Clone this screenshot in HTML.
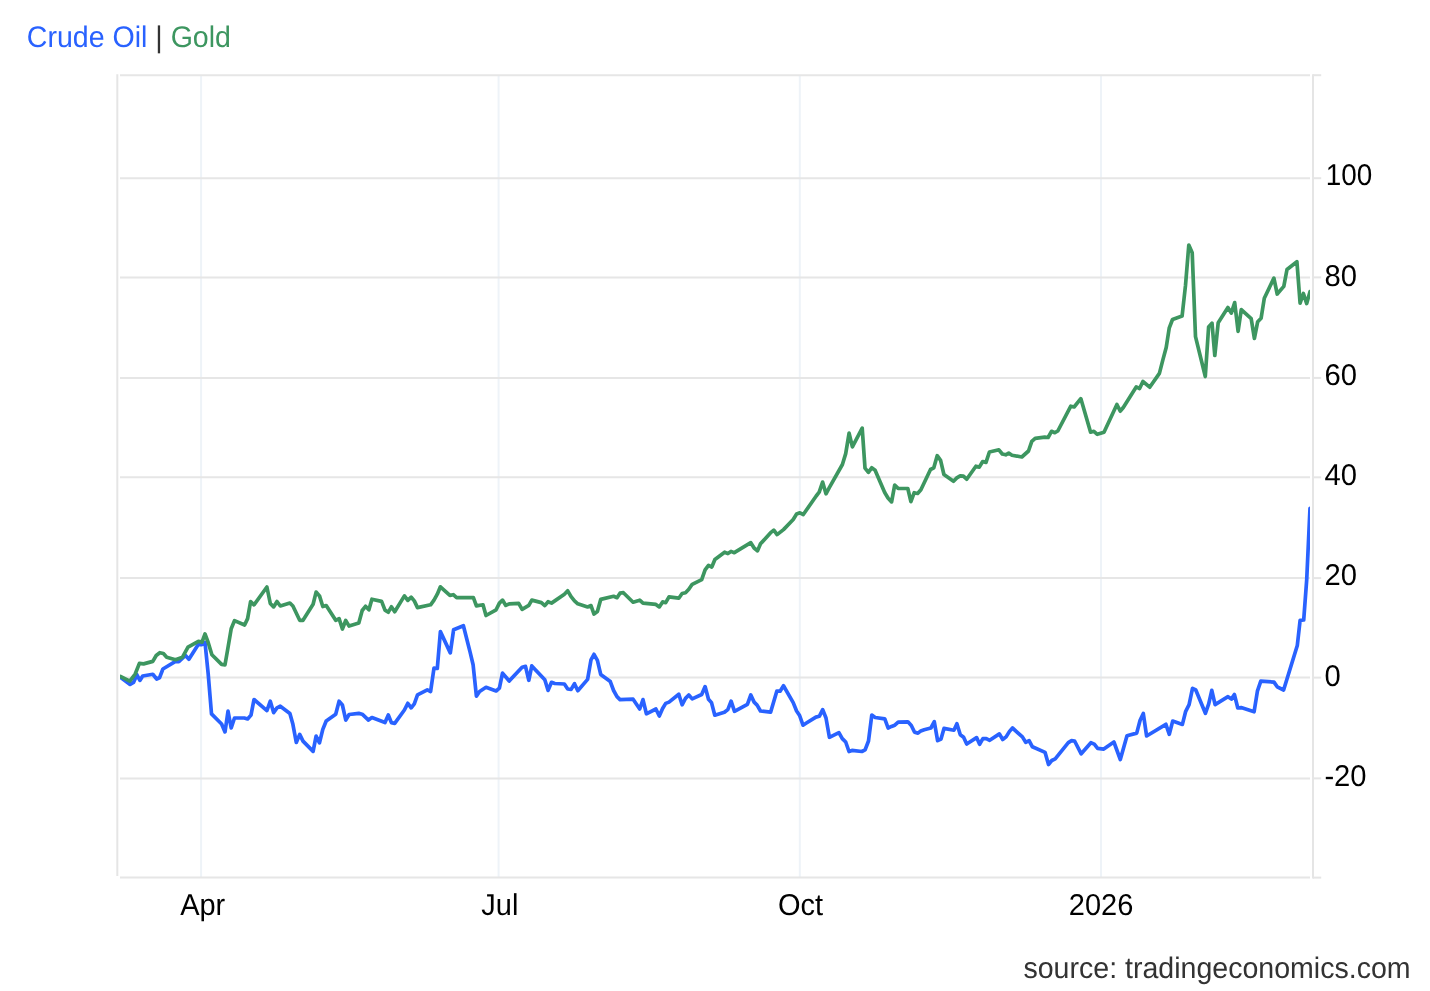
<!DOCTYPE html>
<html lang="en"><head><meta charset="utf-8"><title>Crude Oil | Gold</title>
<style>
html,body{margin:0;padding:0;background:#fff;}
body{width:1430px;height:991px;position:relative;overflow:hidden;font-family:"Liberation Sans",Arial,Helvetica,sans-serif;}
#wrap{position:absolute;left:0;top:0;width:1430px;height:991px;will-change:transform;}
svg{position:absolute;left:0;top:0;}
svg text{font-family:"Liberation Sans",Arial,Helvetica,sans-serif;font-size:29.2px;fill:#000;white-space:pre;text-rendering:geometricPrecision;}
svg text.x{font-size:29px;}
svg text.t{font-size:28.55px;fill:#333;}
</style></head><body><div id="wrap">
<svg width="1430" height="991" viewBox="0 0 1430 991">
<defs><clipPath id="plot"><rect x="120" y="60" width="1190" height="830"/></clipPath></defs>

<line x1="201.1" y1="75.2" x2="201.1" y2="877.6" stroke="#eef3f8" stroke-width="2"/>
<line x1="498.6" y1="75.2" x2="498.6" y2="877.6" stroke="#eef3f8" stroke-width="2"/>
<line x1="799.8" y1="75.2" x2="799.8" y2="877.6" stroke="#eef3f8" stroke-width="2"/>
<line x1="1101" y1="75.2" x2="1101" y2="877.6" stroke="#eef3f8" stroke-width="2"/>
<line x1="120" y1="75.2" x2="1310" y2="75.2" stroke="#e6e6e6" stroke-width="2"/>
<line x1="120" y1="178.2" x2="1310" y2="178.2" stroke="#e6e6e6" stroke-width="2"/>
<line x1="120" y1="277.4" x2="1310" y2="277.4" stroke="#e6e6e6" stroke-width="2"/>
<line x1="120" y1="377.9" x2="1310" y2="377.9" stroke="#e6e6e6" stroke-width="2"/>
<line x1="120" y1="477.3" x2="1310" y2="477.3" stroke="#e6e6e6" stroke-width="2"/>
<line x1="120" y1="578.1" x2="1310" y2="578.1" stroke="#e6e6e6" stroke-width="2"/>
<line x1="120" y1="677.6" x2="1310" y2="677.6" stroke="#e6e6e6" stroke-width="2"/>
<line x1="120" y1="778.4" x2="1310" y2="778.4" stroke="#e6e6e6" stroke-width="2"/>
<line x1="120" y1="877.6" x2="1310" y2="877.6" stroke="#e6e6e6" stroke-width="2"/>
<line x1="117.3" y1="74.2" x2="117.3" y2="876.0" stroke="#e5e5e5" stroke-width="2"/>
<line x1="1313" y1="74.2" x2="1313" y2="878.6" stroke="#e5e5e5" stroke-width="2"/>
<line x1="1313" y1="75.2" x2="1321.2" y2="75.2" stroke="#e5e5e5" stroke-width="2"/>
<line x1="1313" y1="178.2" x2="1321.2" y2="178.2" stroke="#e5e5e5" stroke-width="2"/>
<line x1="1313" y1="277.4" x2="1321.2" y2="277.4" stroke="#e5e5e5" stroke-width="2"/>
<line x1="1313" y1="377.9" x2="1321.2" y2="377.9" stroke="#e5e5e5" stroke-width="2"/>
<line x1="1313" y1="477.3" x2="1321.2" y2="477.3" stroke="#e5e5e5" stroke-width="2"/>
<line x1="1313" y1="578.1" x2="1321.2" y2="578.1" stroke="#e5e5e5" stroke-width="2"/>
<line x1="1313" y1="677.6" x2="1321.2" y2="677.6" stroke="#e5e5e5" stroke-width="2"/>
<line x1="1313" y1="778.4" x2="1321.2" y2="778.4" stroke="#e5e5e5" stroke-width="2"/>
<line x1="1313" y1="877.6" x2="1321.2" y2="877.6" stroke="#e5e5e5" stroke-width="2"/>
<g clip-path="url(#plot)" fill="none" stroke-linejoin="round" stroke-linecap="round" stroke-width="3.7">
<path d="M120.4 677.3 L130.1 684.4 L133.5 682.4 L136.9 674.8 L139.9 680.4 L142.7 676.0 L152.8 674.3 L156.7 679.0 L159.5 677.8 L162.9 669.0 L175.5 661.4 L178.8 661.7 L185.5 655.5 L188.9 659.2 L198.4 644.3 L202.0 644.6 L205.0 642.4 L208.2 674.0 L211.5 713.9 L221.6 724.0 L225.0 731.9 L228.0 711.2 L231.2 728.0 L234.5 718.0 L244.3 718.0 L247.6 719.0 L251.0 715.1 L254.0 699.5 L266.9 710.6 L270.3 701.2 L273.6 712.6 L277.0 707.9 L280.3 706.2 L289.9 713.4 L292.9 724.3 L296.3 742.5 L299.7 734.4 L303.0 741.1 L313.1 751.4 L316.1 736.1 L319.5 742.8 L322.8 729.4 L326.2 721.0 L335.7 714.3 L339.1 701.2 L342.4 705.0 L345.8 720.1 L349.1 714.5 L358.8 713.4 L362.2 714.2 L368.5 720.1 L371.9 717.6 L385.0 722.6 L388.3 715.0 L391.4 722.6 L394.7 723.4 L404.4 710.0 L407.8 703.3 L411.2 707.8 L414.3 703.8 L417.5 694.9 L427.3 689.9 L430.6 691.5 L434.0 668.0 L437.3 668.5 L440.4 631.6 L450.3 652.9 L453.6 629.8 L463.4 625.7 L466.7 638.7 L470.1 652.1 L473.1 664.7 L476.4 696.1 L479.6 691.5 L486.0 687.3 L496.1 691.0 L499.4 688.2 L502.5 673.1 L509.2 681.0 L522.1 667.2 L525.5 666.4 L528.8 680.3 L531.8 665.9 L544.8 679.8 L548.1 690.4 L551.5 682.3 L554.8 683.5 L564.4 684.0 L567.7 689.0 L571.1 689.4 L574.5 683.7 L577.8 690.7 L587.6 679.4 L591.0 659.8 L594.0 654.3 L597.4 660.3 L600.7 674.4 L610.3 681.6 L613.6 690.5 L617.0 696.7 L620.0 699.6 L633.1 699.2 L639.7 709.0 L643.0 699.6 L646.4 713.8 L655.9 709.0 L659.3 716.0 L662.6 708.5 L665.7 703.4 L669.0 702.1 L678.8 694.2 L682.1 704.8 L685.5 698.4 L688.8 695.0 L692.2 698.9 L701.7 694.5 L705.1 686.6 L708.5 699.2 L711.5 702.6 L714.8 715.2 L724.4 712.3 L727.8 709.6 L731.1 701.2 L734.5 711.3 L747.4 704.3 L750.8 695.0 L754.1 702.1 L757.1 705.1 L760.5 711.0 L770.6 712.2 L776.8 691.2 L780.1 691.2 L783.5 685.8 L793.2 702.6 L796.6 711.0 L799.6 715.5 L803.0 725.2 L806.4 723.0 L815.9 717.1 L819.3 716.3 L822.7 709.6 L826.0 718.0 L829.4 737.3 L838.9 732.6 L842.3 738.6 L845.7 742.0 L849.0 751.5 L852.0 750.4 L861.8 751.5 L865.1 749.9 L868.5 741.0 L871.8 715.1 L875.2 717.5 L884.8 718.8 L888.1 728.0 L891.5 726.4 L894.8 725.2 L898.2 722.2 L907.9 721.8 L911.3 725.5 L914.6 732.2 L918.0 733.1 L920.8 730.9 L924.2 729.7 L930.9 728.0 L934.3 721.7 L937.6 740.6 L941.0 739.0 L944.0 728.4 L953.9 730.2 L956.9 723.8 L960.3 734.8 L963.6 737.3 L966.7 744.0 L976.6 737.6 L979.6 744.3 L982.9 738.6 L986.3 738.6 L989.7 740.3 L999.4 733.9 L1002.7 739.5 L1006.1 736.9 L1009.5 731.4 L1012.5 728.0 L1022.4 736.9 L1025.7 742.3 L1029.1 740.6 L1032.4 746.8 L1045.1 752.4 L1048.5 764.5 L1051.8 760.5 L1055.2 758.8 L1068.3 742.7 L1071.6 740.7 L1074.6 741.0 L1081.2 753.8 L1090.9 742.7 L1094.3 744.1 L1097.6 748.3 L1103.8 749.1 L1113.9 742.0 L1120.3 759.5 L1127.0 735.7 L1136.7 733.1 L1140.1 720.2 L1143.3 713.5 L1146.6 736.0 L1165.9 724.3 L1169.3 734.3 L1172.7 721.1 L1182.4 724.4 L1185.7 711.3 L1189.1 704.6 L1192.5 688.3 L1195.8 690.0 L1205.4 713.3 L1208.7 703.8 L1211.8 690.3 L1215.1 704.6 L1228.0 696.7 L1231.4 699.1 L1234.4 694.5 L1237.8 708.0 L1241.1 707.6 L1254.1 711.8 L1257.4 691.2 L1260.8 681.1 L1274.0 682.1 L1277.2 686.8 L1283.6 690.0 L1297.3 645.5 L1300.1 620.4 L1303.7 620.0 L1306.7 579.8 L1310.0 508.4" stroke="#2962ff"/>
<path d="M120.4 676.5 L129.8 681.2 L135.2 674.0 L139.4 663.4 L143.6 663.9 L152.8 661.4 L156.2 655.5 L159.8 652.7 L163.4 653.5 L166.7 657.2 L175.5 659.7 L182.5 657.2 L188.0 647.1 L198.4 641.3 L202.0 642.1 L205.0 634.0 L207.8 641.3 L211.9 654.7 L221.6 664.4 L225.0 664.8 L227.5 650.5 L231.2 628.7 L234.5 620.6 L244.6 625.0 L247.6 618.6 L250.6 601.5 L254.0 604.8 L266.9 587.0 L270.3 603.5 L273.6 606.9 L277.0 601.5 L280.3 606.0 L289.9 603.0 L292.9 606.0 L299.7 620.3 L303.0 620.3 L313.1 604.3 L316.1 592.1 L319.5 595.9 L322.8 606.5 L326.2 605.5 L335.7 620.3 L339.1 618.6 L342.4 629.0 L345.7 620.5 L349.1 626.1 L358.8 623.1 L362.2 610.5 L365.5 606.3 L368.9 609.8 L371.9 599.2 L381.6 601.4 L385.0 610.1 L388.3 612.2 L391.4 606.8 L394.7 611.8 L404.4 595.9 L407.8 600.4 L411.2 597.2 L414.3 600.9 L417.5 607.6 L430.6 604.8 L434.0 600.1 L437.3 594.2 L440.4 586.8 L449.9 595.4 L453.3 594.7 L456.6 597.6 L473.4 597.6 L476.4 605.9 L483.0 604.8 L486.0 615.5 L496.1 609.8 L499.4 603.1 L502.5 600.1 L505.8 605.4 L509.2 603.8 L518.7 603.4 L522.1 609.3 L528.8 605.4 L531.8 600.1 L541.4 602.6 L544.8 605.6 L548.1 601.7 L551.5 603.1 L554.8 600.9 L564.4 594.2 L567.7 590.8 L571.1 596.7 L574.5 600.9 L577.8 603.8 L587.6 606.9 L591.0 605.6 L594.0 614.1 L597.4 611.6 L600.7 599.4 L613.6 596.3 L617.0 597.7 L620.0 593.2 L623.4 592.7 L633.1 602.2 L639.7 600.2 L643.0 603.2 L655.9 604.4 L659.3 606.9 L662.6 601.9 L665.7 602.7 L669.0 596.9 L678.8 598.2 L682.1 593.5 L685.5 592.7 L688.8 589.3 L692.2 584.3 L701.7 579.7 L705.1 569.9 L708.5 565.3 L711.8 567.0 L714.9 559.5 L724.6 552.2 L727.9 553.6 L731.0 551.4 L734.3 552.7 L750.8 542.7 L754.1 548.0 L757.5 550.9 L760.5 543.8 L770.4 532.9 L773.8 530.1 L777.1 534.6 L783.5 529.6 L793.2 519.5 L796.6 514.0 L799.9 512.8 L803.3 514.5 L816.2 496.0 L819.2 492.2 L822.6 482.1 L826.0 493.8 L829.3 487.6 L842.4 464.5 L845.7 453.6 L849.1 433.1 L852.4 446.9 L862.2 428.1 L865.0 468.2 L868.4 472.4 L871.7 467.8 L875.1 470.3 L884.7 492.5 L888.0 498.0 L891.6 501.9 L894.7 485.1 L898.1 488.3 L907.8 488.5 L910.9 501.7 L914.2 492.7 L917.6 493.5 L920.9 489.7 L930.5 469.5 L933.8 467.8 L937.2 455.7 L940.6 460.3 L943.9 474.5 L953.5 481.3 L956.8 477.9 L960.2 475.9 L963.4 476.1 L966.7 479.2 L975.9 466.2 L979.3 467.1 L982.7 461.5 L986.0 462.4 L989.4 452.0 L998.9 449.8 L1002.3 454.0 L1005.7 454.8 L1008.7 453.1 L1012.0 455.2 L1021.8 457.0 L1028.5 451.0 L1031.8 441.4 L1035.2 438.4 L1044.8 437.2 L1048.1 437.5 L1051.5 431.3 L1054.8 432.7 L1057.8 431.0 L1070.8 406.2 L1074.1 407.0 L1080.8 398.6 L1090.6 432.2 L1093.9 431.3 L1097.3 434.3 L1104.0 432.2 L1116.9 404.5 L1120.3 411.2 L1123.3 407.5 L1136.2 386.9 L1139.6 388.5 L1142.9 381.5 L1149.7 387.2 L1159.4 373.4 L1162.8 360.1 L1166.2 347.5 L1169.2 328.2 L1172.5 319.5 L1182.1 316.1 L1185.5 285.4 L1188.8 245.1 L1192.2 252.7 L1195.5 336.6 L1205.3 376.5 L1208.6 327.0 L1212.0 323.1 L1214.8 355.5 L1218.2 322.8 L1227.9 307.5 L1231.3 313.1 L1234.7 302.6 L1238.1 331.3 L1241.3 309.6 L1251.2 318.7 L1254.4 338.4 L1257.7 321.7 L1261.1 318.2 L1264.3 298.3 L1273.9 278.1 L1277.2 294.0 L1283.8 286.4 L1287.0 269.5 L1296.9 261.7 L1300.1 303.1 L1303.4 293.5 L1306.7 303.6 L1310.0 291.7" stroke="#3d9660"/>
</g>
<text transform="translate(1325.7 184.9) scale(0.955 1.03)">100</text>
<text transform="translate(1324.4 285.9) scale(1 1.03)">80</text>
<text transform="translate(1324.4 385.4) scale(1 1.03)">60</text>
<text transform="translate(1324.4 485.4) scale(1 1.03)">40</text>
<text transform="translate(1324.4 585.0) scale(1 1.03)">20</text>
<text transform="translate(1324.4 685.7) scale(1 1.03)">0</text>
<text transform="translate(1324.4 785.8) scale(1 1.03)">-20</text>
<text class="x" transform="translate(202.7 914.7) scale(1 1.04)" text-anchor="middle">Apr</text>
<text class="x" transform="translate(499.9 914.7) scale(1 1.04)" text-anchor="middle">Jul</text>
<text class="x" transform="translate(800.5 914.7) scale(1 1.04)" text-anchor="middle">Oct</text>
<text class="x" transform="translate(1101.1 914.7) scale(1 1.04)" text-anchor="middle">2026</text>
<text class="t" transform="translate(26.8 47.4) scale(1 1.045)" fill="#333"><tspan fill="#2962ff">Crude Oil</tspan> | <tspan fill="#3d9660">Gold</tspan></text>
<text class="t" transform="translate(1410.6 977.6) scale(1 1.045)" text-anchor="end">source: tradingeconomics.com</text>
</svg>
</div></body></html>
